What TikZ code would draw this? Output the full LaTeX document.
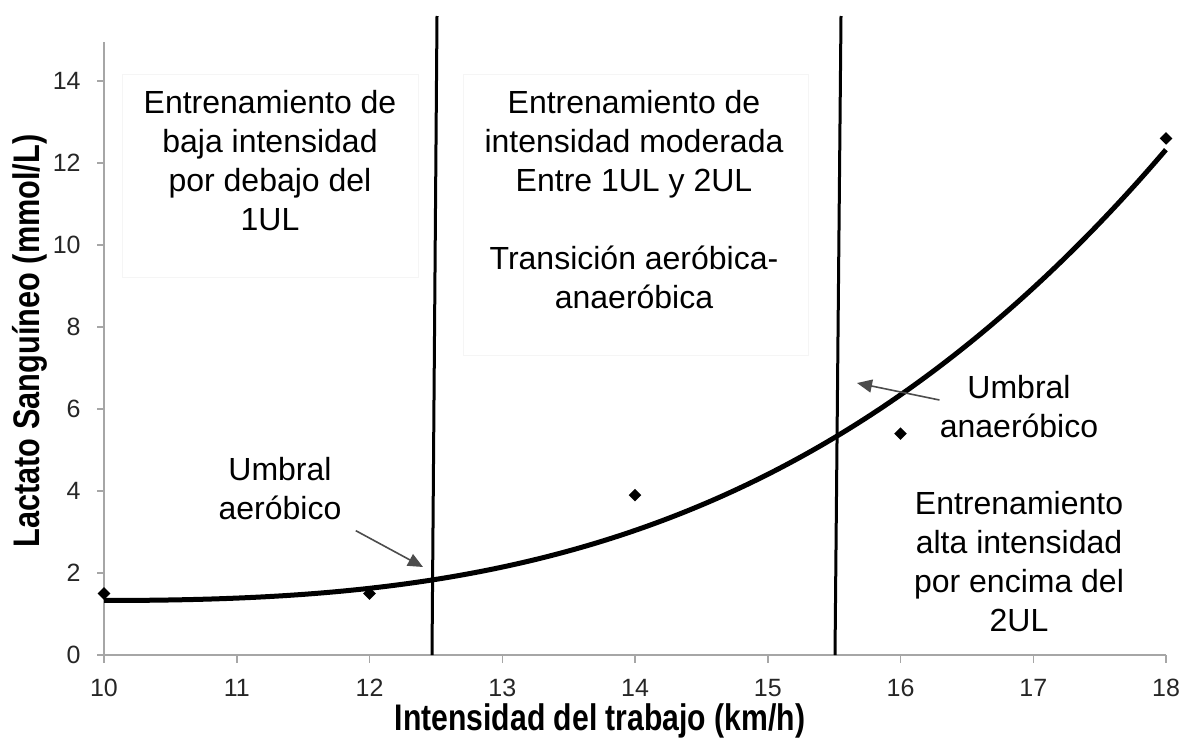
\documentclass[tikz,border=0pt]{standalone}
\usepackage{fontspec}
\setmainfont{Liberation Sans}
\usepackage{tikz}
\usetikzlibrary{arrows.meta,shapes.geometric}
\tikzset{>={Triangle[length=7.5pt,width=6.5pt]}}
\tikzset{
  zone/.style={font=\fontsize{16}{19.5}\selectfont, align=center, inner sep=0pt},
  zonebox/.style={draw=black!4, line width=0.5pt},
  ticklbl/.style={font=\fontsize{12.5}{14}\selectfont, text=black!85, inner sep=0pt},
  axtitle/.style={font=\bfseries\fontsize{18.5}{20}\selectfont, inner sep=0pt},
  axis/.style={draw=black!35, line width=0.75pt},
  fitline/.style={line width=2.5pt},
  ulline/.style={line width=1.5pt},
  pointer/.style={->, draw=black!70, line width=0.8pt},
  datum/.style={diamond, fill, inner sep=0pt, minimum width=6.5pt, minimum height=6.5pt},
}

\begin{document}
\begin{tikzpicture}[x=0.5pt,y=-0.5pt]
  \useasboundingbox (0,0) rectangle (1188,744);

  % Boxes
  \draw[zonebox] (122,74) rectangle (418,277);
  \draw[zonebox] (463,74) rectangle (808,355);

  % Axes
  \draw[axis] (104,42) -- (104,655) -- (1166,655);
  \foreach \v in {0,2,...,14} {
    \draw[axis] (97,{655-41*\v}) -- (104,{655-41*\v});
    \node[ticklbl, anchor=east] (ytick\v) at (81,{655-41*\v}) {\v};
  }
  \foreach \u in {10,...,18} {
    \draw[axis] ({104+132.75*(\u-10)},655) -- ({104+132.75*(\u-10)},663);
    \node[ticklbl] (xtick\u) at ({104+132.75*(\u-10)},688) {\u};
  }
  \node[axtitle] (xtitle) at (600,721) {\scalebox{0.815}[1]{Intensidad del trabajo (km/h)}};
  \node[axtitle, rotate=90] (ytitle) at (30,341) {\scalebox{0.83}[1]{Lactato Sanguíneo (mmol/L)}};

  % Thresholds
  \coordinate (ul1top) at (437,16);
  \coordinate (ul1bot) at (432,655);
  \coordinate (ul2top) at (841,16);
  \coordinate (ul2bot) at (835,655);
  \draw[ulline] (ul1top) -- (ul1bot);
  \draw[ulline] (ul2top) -- (ul2bot);

  % Trend and data
  \draw[fitline] plot[domain=10:18, samples=80, smooth]
    ({104+132.75*(\x-10)}, {655-41*(1.33+0.0417*(\x-10)^2+0.01627*(\x-10)^3)});
  \node[datum] (p10) at (104,593.5) {};
  \node[datum] (p12) at (369.5,593.5) {};
  \node[datum] (p14) at (635,495.1) {};
  \node[datum] (p16) at (900.5,433.6) {};
  \node[datum] (p18) at (1166,138.4) {};

  % Labels
  \node[zone] (baja) at (270,161) {Entrenamiento de\\baja intensidad\\por debajo del\\1UL};
  \node[zone] (moderada) at (634,200) {Entrenamiento de\\intensidad moderada\\Entre 1UL y 2UL\\~\\Transición aeróbica-\\anaeróbica};
  \node[zone] (alta) at (1019,562) {Entrenamiento\\alta intensidad\\por encima del\\2UL};
  \node[zone] (uaer) at (280,489) {Umbral\\aeróbico};
  \node[zone] (uanaer) at (1019,407) {Umbral\\anaeróbico};

  % Arrows
  \coordinate (uaertip) at (423,567);
  \coordinate (uanaertip) at (857,383);
  \draw[pointer] ([xshift=7pt,yshift=-5pt]uaer.south east) -- (uaertip);
  \draw[pointer] ([yshift=3.5pt]uanaer.west) -- (uanaertip);
\end{tikzpicture}
\end{document}
